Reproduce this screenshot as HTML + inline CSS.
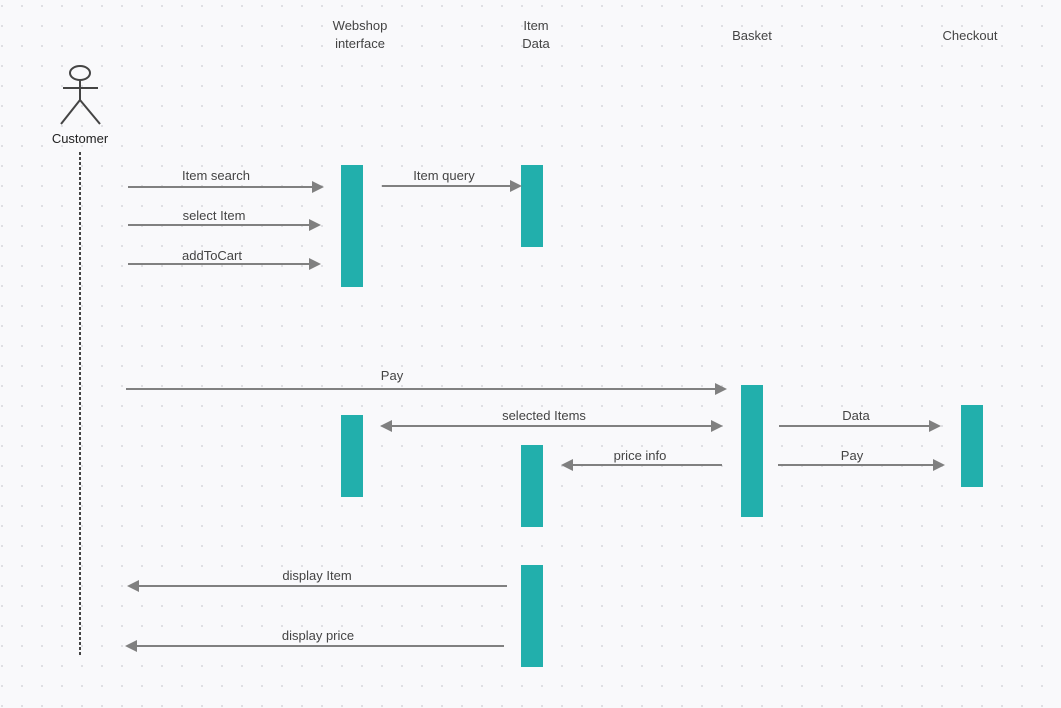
<!DOCTYPE html>
<html><head><meta charset="utf-8"><style>
html,body{margin:0;padding:0;background:#f9f9fb;}
svg{display:block;font-family:"Liberation Sans",sans-serif;}
text{font-size:13px;fill:#444;text-anchor:middle;}
</style></head><body>
<svg width="1061" height="708" viewBox="0 0 1061 708" xmlns="http://www.w3.org/2000/svg">
<defs>
<pattern id="g" x="0" y="0" width="20" height="20" patternUnits="userSpaceOnUse">
<rect x="1" y="5" width="2" height="2" fill="#dfdfe3"/>
</pattern>
<marker id="a" viewBox="0 0 10 10" refX="9" refY="5" markerWidth="5" markerHeight="5" orient="auto-start-reverse" markerUnits="userSpaceOnUse">
</marker>
</defs>
<rect width="1061" height="708" fill="#f9f9fb"/>
<rect width="1061" height="708" fill="url(#g)"/>

<!-- headers -->
<text x="360" y="30">Webshop</text>
<text x="360" y="48">interface</text>
<text x="536" y="30">Item</text>
<text x="536" y="48">Data</text>
<text x="752" y="40">Basket</text>
<text x="970" y="40">Checkout</text>

<!-- actor -->
<g stroke="#444" stroke-width="2" fill="none">
<ellipse cx="80" cy="73" rx="10" ry="7"/>
<line x1="80" y1="80" x2="80" y2="100"/>
<line x1="63" y1="88" x2="98" y2="88"/>
<line x1="80" y1="100" x2="61" y2="124"/>
<line x1="80" y1="100" x2="100" y2="124"/>
</g>
<text x="80" y="143" style="fill:#222">Customer</text>
<line x1="80" y1="152" x2="80" y2="657" stroke="#444" stroke-width="2" stroke-dasharray="3,2"/>

<!-- activations -->
<g fill="#22afac">
<rect x="341" y="165" width="22" height="122"/>
<rect x="521" y="165" width="22" height="82"/>
<rect x="341" y="415" width="22" height="82"/>
<rect x="521" y="445" width="22" height="82"/>
<rect x="741" y="385" width="22" height="132"/>
<rect x="961" y="405" width="22" height="82"/>
<rect x="521" y="565" width="22" height="102"/>
</g>

<!-- arrows -->
<g stroke="#808080" stroke-width="2">
<line x1="128" y1="187" x2="312" y2="187"/>
<line x1="128" y1="225" x2="310" y2="225"/>
<line x1="128" y1="264" x2="310" y2="264"/>
<line x1="382" y1="186" x2="512" y2="186"/>
<line x1="126" y1="389" x2="716" y2="389"/>
<line x1="390" y1="426" x2="712" y2="426"/>
<line x1="779" y1="426" x2="930" y2="426"/>
<line x1="572" y1="465" x2="722" y2="465"/>
<line x1="778" y1="465" x2="934" y2="465"/>
<line x1="138" y1="586" x2="507" y2="586"/>
<line x1="136" y1="646" x2="504" y2="646"/>
</g>
<g fill="#808080">
<polygon points="324,187 312,181 312,193"/>
<polygon points="321,225 309,219 309,231"/>
<polygon points="321,264 309,258 309,270"/>
<polygon points="522,186 510,180 510,192"/>
<polygon points="727,389 715,383 715,395"/>
<polygon points="723,426 711,420 711,432"/>
<polygon points="380,426 392,420 392,432"/>
<polygon points="941,426 929,420 929,432"/>
<polygon points="561,465 573,459 573,471"/>
<polygon points="945,465 933,459 933,471"/>
<polygon points="127,586 139,580 139,592"/>
<polygon points="125,646 137,640 137,652"/>
</g>

<!-- labels -->
<text x="216" y="180">Item search</text>
<text x="214" y="220">select Item</text>
<text x="212" y="260">addToCart</text>
<text x="444" y="180">Item query</text>
<text x="392" y="380">Pay</text>
<text x="544" y="420">selected Items</text>
<text x="856" y="420">Data</text>
<text x="640" y="460">price info</text>
<text x="852" y="460">Pay</text>
<text x="317" y="580">display Item</text>
<text x="318" y="640">display price</text>
</svg>
</body></html>
